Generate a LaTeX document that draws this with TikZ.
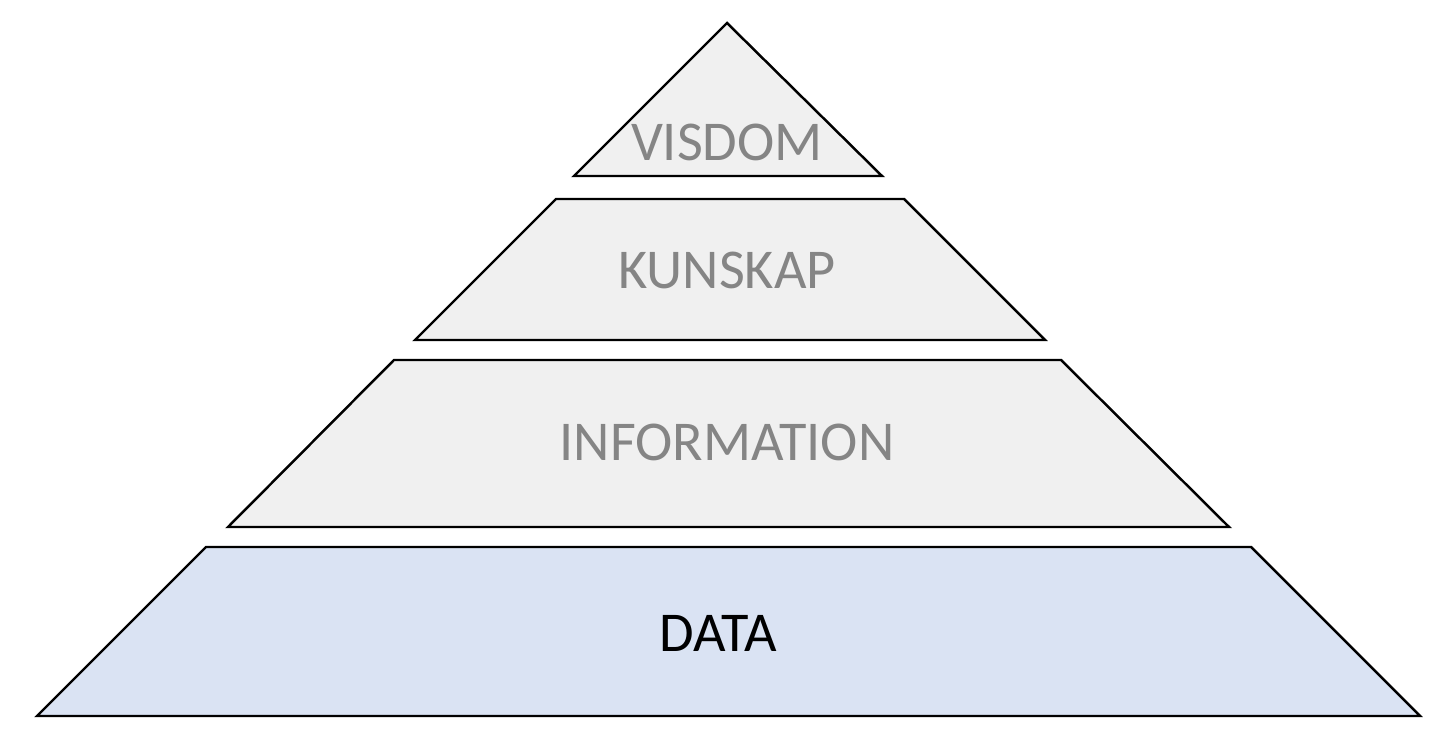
\documentclass[tikz,border=0pt]{standalone}
\usepackage{fontspec}
\setmainfont{Carlito}
\usetikzlibrary{positioning}
\definecolor{layergray}{HTML}{F0F0F0}
\definecolor{layerblue}{HTML}{DAE3F3}
\definecolor{labelgray}{HTML}{858585}

\begin{document}
\begin{tikzpicture}[x=0.02cm, y=-0.02cm]
% Setup the styles for the layers
\tikzset{layer style/.style={draw=black, line width=1.4pt, line join=miter, fill=layergray},
	label style/.style={font=\fontsize{32}{36}\selectfont, text=labelgray, inner sep=0pt}}
\useasboundingbox (0,0) rectangle (1456,732);
% Draw the layers
\draw[layer style] (727,23) -- (882,176) -- (574,176) -- cycle;
\draw[layer style] (556,199) -- (904,199) -- (1045,340) -- (415,340) -- cycle;
\draw[layer style] (394,360) -- (1061,360) -- (1229,527) -- (228,527) -- cycle;
\draw[layer style, fill=layerblue] (206,547) -- (1251,547) -- (1420,716) -- (37,716) -- cycle;

% Put the labels
\node[label style] at (727,142) (visdom) {VISDOM};
\node[label style] at (727,270) (kunskap) {KUNSKAP};
\node[label style] at (727,442) (info) {INFORMATION};
\node[label style, text=black] at (718,633) (data) {DATA};
\end{tikzpicture}
\end{document}
